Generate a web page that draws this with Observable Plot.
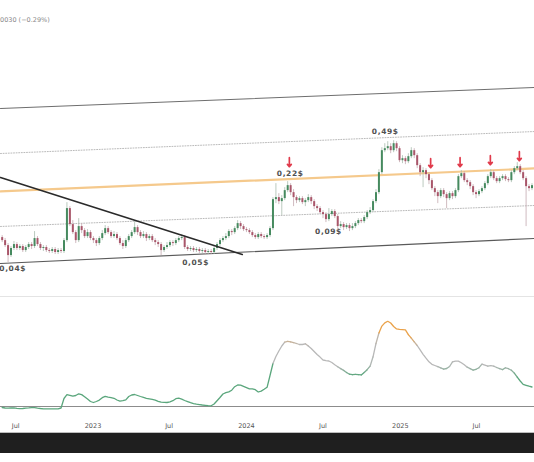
<!DOCTYPE html>
<html><head><meta charset="utf-8">
<script src="https://cdn.jsdelivr.net/npm/d3@7"></script>
<script src="https://cdn.jsdelivr.net/npm/@observablehq/plot@0.6"></script>
<style>
html,body{margin:0;padding:0;background:#fff;}
#wrap{position:relative;width:534px;height:462px;overflow:hidden;background:#fff;font-family:"DejaVu Sans",sans-serif;}
#top{position:absolute;left:0;top:0;}
#bot{position:absolute;left:0;top:296px;}
#sep{position:absolute;left:0;top:296px;width:534px;height:1px;background:#e4e4e4;}
#bar{position:absolute;left:0;top:432px;width:534px;height:20px;background:#1f1f1f;border-top:1px solid #bdbdbd;}
#quote{position:absolute;left:0px;top:16px;font-size:6.5px;color:#8a8a8a;white-space:nowrap;}
#top svg g[aria-label="text"] text{letter-spacing:0.6px;}
</style></head><body>
<div id="wrap">
<div id="top"></div>
<div id="sep"></div>
<div id="bot"></div>
<div id="bar"></div>
<div id="quote">0030 (−0.29%)</div>
</div>
<script>
// ---- weekly candles (first week starts 2022-05-30) ----
const firstWeek = "2022-05-30";
const firstOpen = 0.0667;
const closes = [
.0627,.0566,.0461,.0533,.0578,.0533,.0555,.0511,.0544,.0578,
.0555,.0654,.0578,.0533,.0544,.0511,.0501,.0522,.0491,.0511,
.0501,.0627,.1210,.0871,.0739,.0627,.0836,.0770,.0681,.0739,
.0654,.0627,.0590,.0654,.0724,.0802,.0739,.0681,.0710,.0654,
.0590,.0555,.0627,.0681,.0739,.0819,.0739,.0681,.0710,.0654,
.0681,.0627,.0602,.0578,.0511,.0544,.0566,.0602,.0590,.0627,
.0654,.0667,.0544,.0522,.0533,.0511,.0522,.0501,.0511,.0491,
.0501,.0491,.0533,.0578,.0627,.0654,.0681,.0755,.0739,.0802,
.0889,.0836,.0786,.0770,.0739,.0695,.0667,.0710,.0681,.0667,
.0695,.0802,.1455,.1516,.1396,.1485,.1750,.1939,.1679,.1516,
.1425,.1485,.1368,.1425,.1516,.1396,.1260,.1210,.1114,.1070,
.0965,.1070,.1138,.1027,.0836,.0871,.0819,.0853,.0802,.0836,
.0889,.0946,.0926,.1006,.1114,.1161,.1396,.1679,.2531,.3974,
.4141,.4314,.3974,.4587,.4141,.3237,.3373,.3171,.3514,.3974,
.3587,.2922,.2531,.2637,.2429,.2148,.1823,.1679,.1547,.1750,
.1612,.1485,.1645,.1547,.1750,.2332,.2480,.2148,.2062,.1899,
.1679,.1612,.1714,.1823,.2020,.2332,.2531,.2238,.2105,.2238,
.2332,.2193,.2148,.2531,.2747,.2862,.2531,.2238,.1899,.1823,.1939];
const highs = [
.0695,.0654,.0590,.0555,.0615,.0602,.0578,.0578,.0566,.0602,
.0602,.0755,.0681,.0602,.0566,.0566,.0533,.0544,.0544,.0533,
.0533,.0654,.1368,.1260,.0946,.0770,.0985,.0889,.0802,.0786,
.0770,.0681,.0654,.0681,.0770,.0853,.0836,.0770,.0755,.0739,
.0681,.0627,.0654,.0710,.0770,.0926,.0853,.0770,.0755,.0739,
.0710,.0710,.0654,.0627,.0602,.0566,.0602,.0627,.0627,.0654,
.0681,.0710,.0695,.0566,.0555,.0555,.0544,.0544,.0533,.0533,
.0522,.0522,.0555,.0602,.0654,.0681,.0724,.0786,.0786,.0836,
.0946,.0926,.0871,.0819,.0802,.0770,.0724,.0739,.0739,.0710,
.0724,.0836,.1516,.2020,.1645,.1579,.1861,.2105,.2020,.1786,
.1579,.1547,.1547,.1485,.1612,.1579,.1455,.1313,.1260,.1161,
.1114,.1210,.1185,.1185,.1070,.0926,.0908,.0889,.0889,.0889,
.0926,.0985,.0985,.1048,.1161,.1235,.1455,.1786,.2692,.4226,
.4590,.4779,.4587,.4879,.4779,.4314,.3587,.3514,.3737,.4226,
.4141,.3737,.3044,.2804,.2747,.2531,.2238,.1899,.1750,.1823,
.1823,.1679,.1714,.1714,.1823,.2429,.2637,.2584,.2238,.2148,
.1979,.1750,.1786,.1899,.2105,.2429,.2692,.2637,.2332,.2332,
.2429,.2429,.2285,.2637,.2862,.3107,.2982,.2637,.2332,.1979,.2020];
const lows = [
.0602,.0544,.0400,.0443,.0511,.0511,.0511,.0491,.0491,.0522,
.0522,.0533,.0555,.0511,.0501,.0491,.0481,.0481,.0471,.0471,
.0481,.0481,.0602,.0836,.0710,.0590,.0602,.0724,.0654,.0654,
.0627,.0590,.0555,.0566,.0627,.0695,.0710,.0654,.0654,.0627,
.0566,.0522,.0533,.0602,.0654,.0710,.0695,.0654,.0654,.0615,
.0627,.0602,.0566,.0544,.0461,.0491,.0522,.0544,.0555,.0566,
.0602,.0627,.0522,.0501,.0501,.0491,.0491,.0481,.0481,.0471,
.0471,.0471,.0471,.0511,.0555,.0602,.0627,.0654,.0695,.0710,
.0770,.0786,.0755,.0739,.0710,.0667,.0641,.0641,.0654,.0641,
.0641,.0667,.0770,.1340,.1313,.1048,.1425,.1679,.1579,.1260,
.1340,.1368,.1313,.1260,.1368,.1313,.1185,.1138,.1070,.0985,
.0908,.0926,.1027,.0985,.0786,.0802,.0770,.0786,.0755,.0770,
.0802,.0853,.0889,.0889,.0965,.1070,.1114,.1340,.1612,.2429,
.3814,.3974,.3737,.3814,.3893,.3107,.3044,.2982,.3044,.3373,
.3373,.2747,.2332,.1861,.2238,.1979,.1750,.1547,.1340,.1485,
.1516,.1210,.1425,.1455,.1485,.1679,.2238,.2062,.1939,.1786,
.1579,.1485,.1547,.1645,.1750,.1939,.2238,.2148,.2020,.2020,
.2148,.2105,.2062,.2062,.2429,.2637,.2429,.2148,.0836,.1714,.1750];
// ---- oscillator (lower pane), one value per week ----
const oscillator = [
-1,-1.5,-1.7,-1.5,-1.3,-1.8,-2.2,-2,-1.6,-1.4,
-1.1,-1.1,-1.6,-2,-2.3,-2.3,-2.3,-2.3,-2.3,-2.3,
-1.5,8,11.8,11.2,10.3,11,12.7,11.9,9.8,7.4,
5,4,5,6.4,8.8,10.1,9.4,8.9,8.2,6.5,
5.4,5.8,6.6,10,11.5,12,11,10,9.1,8.2,
7.7,7.2,6.4,5.2,4.3,4.1,4,4.7,5.8,7.8,
8.3,7.4,6,4.9,3.8,2.8,2.3,1.9,1.5,1.2,
0.9,0.7,2.5,5.8,9,12.5,13.8,14.6,16.3,19.8,
21.5,21.3,20.1,18.9,17.7,17.7,16.8,14.5,15.4,17.2,
19.2,31,43,50,55.5,60.5,64.3,65.2,64.7,63.9,
63,62,62,62.7,60.5,58,55,52,49.4,46.5,
45.8,45.5,44,41.8,39.8,37.9,36.1,34,32.3,31.9,
32.2,31.9,31.6,34.1,36.8,40.3,49.7,63,73.5,80.4,
83.6,85.2,83.5,80,77.6,77.1,76.9,76.7,71.8,68.3,
64.7,61,56.6,52.2,48.3,44.7,42.2,41,39.8,38.6,
37.4,38,40,44.6,45.4,45.4,43.8,41.7,39.3,37.8,
36.4,37.2,38.8,42.4,41.4,40.4,40.8,40.3,39,37.8,
36.9,38.7,37.8,36.2,33.4,29.3,25.5,22.1,21.2,20.3,19.5];
// ---- drawn trend / channel lines ----
const lineNames = ["channelTop","channelUpperDotted","resistance","channelLowerDotted","channelBottom","downtrend"];
const lineStartDate = ["2022-05-26","2022-05-26","2022-05-26","2022-05-26","2022-05-26","2022-05-26"];
const lineEndDate = ["2025-11-16","2025-11-16","2025-11-16","2025-11-16","2025-11-16","2023-12-22"];
const lineStartPrice = [0.945, 0.375, 0.172, 0.0838, 0.0392, 0.229];
const lineEndPrice = [1.454, 0.589, 0.276, 0.129, 0.0655, 0.0472];
// ---- price annotations ----
const labelText = ["0,04$","0,05$","0,22$","0,09$","0,49$"];
const labelDate = ["2022-06-24","2023-09-02","2024-04-14","2024-07-14","2024-11-26"];
const labelPrice = [0.0354, 0.0400, 0.2480, 0.0755, 0.589];
// ---- rejection arrows ----
const arrowDate = ["2024-04-12","2025-03-14","2025-05-23","2025-08-03","2025-10-11"];
const arrowTop = [0.3443, 0.3373, 0.3443, 0.3587, 0.3893];
const arrowTip = [0.2862, 0.2804, 0.2862, 0.2982, 0.3237];
// ---- x axis ----
const tickDates = ["2022-07-01","2023-01-01","2023-07-01","2024-01-01","2024-07-01","2025-01-01","2025-07-01"];
const tickLabels = ["Jul","2023","Jul","2024","Jul","2025","Jul"];
const xDomain = ["2022-05-26","2025-11-16"];
const priceDomain = [0.0199, 8.68];

const start = new Date(firstWeek);
const candles = closes.map((c, i) => ({
  date: d3.utcDay.offset(start, 7 * i),
  open: i === 0 ? firstOpen : closes[i - 1],
  close: c, high: highs[i], low: lows[i]
}));
const osc = oscillator.map((v, i) => ({date: d3.utcDay.offset(start, 7 * i), v}));
const xd = xDomain.map(d => new Date(d));

const styles = {
  channelTop: {stroke: "#6e6e6e", strokeWidth: 1.1},
  channelUpperDotted: {stroke: "#a8a8a8", strokeWidth: 0.8, strokeDasharray: "1,1.6"},
  resistance: {stroke: "#f5c98c", strokeWidth: 2.2},
  channelLowerDotted: {stroke: "#a8a8a8", strokeWidth: 0.8, strokeDasharray: "1,1.6"},
  channelBottom: {stroke: "#5a5a5a", strokeWidth: 1.2},
  downtrend: {stroke: "#2a2a2a", strokeWidth: 1.6}
};
const lineMark = i => Plot.line(
  [{d: new Date(lineStartDate[i]), p: lineStartPrice[i]}, {d: new Date(lineEndDate[i]), p: lineEndPrice[i]}],
  {x: "d", y: "p", ...styles[lineNames[i]]});

const up = d => d.close >= d.open;
const green = "#468a5f", red = "#a9566a";
const labels = labelText.map((t, i) => ({t, date: new Date(labelDate[i]), p: labelPrice[i]}));
const arrows = arrowDate.map((d, i) => ({date: new Date(d), a: arrowTop[i], b: arrowTip[i]}));

const topPlot = Plot.plot({
  width: 534, height: 296,
  marginTop: 0, marginBottom: 0, marginLeft: 0, marginRight: 0,
  x: {type: "utc", domain: xd, axis: null},
  y: {type: "log", domain: priceDomain, axis: null},
  style: {background: "transparent", fontFamily: "DejaVu Sans, sans-serif"},
  marks: [
    lineMark(0), lineMark(1), lineMark(2), lineMark(3), lineMark(4),
    Plot.ruleX(candles.filter(up), {x: "date", y1: "low", y2: "high", stroke: "#a9bcae", strokeWidth: 0.8}),
    Plot.ruleX(candles.filter(d => !up(d)), {x: "date", y1: "low", y2: "high", stroke: "#c4aab0", strokeWidth: 0.8}),
    Plot.ruleX(candles.filter(up), {x: "date", y1: "open", y2: "close", stroke: green, strokeWidth: 2}),
    Plot.ruleX(candles.filter(d => !up(d)), {x: "date", y1: "open", y2: "close", stroke: red, strokeWidth: 2}),
    lineMark(5),
    Plot.arrow(arrows, {x1: "date", y1: "a", x2: "date", y2: "b", stroke: "#e03a4b", strokeWidth: 1.7, headLength: 5, headAngle: 80}),
    Plot.text(labels, {x: "date", y: "p", text: "t", fontSize: 7.5, fontWeight: "bold", fill: "#505050"})
  ]
});
document.getElementById("top").appendChild(topPlot);

const botPlot = Plot.plot({
  width: 534, height: 136,
  marginTop: 0, marginBottom: 16, marginLeft: 0, marginRight: 0,
  x: {type: "utc", domain: xd},
  y: {domain: [-10, 110], axis: null},
  color: {type: "linear", domain: [31, 41, 62, 72], range: ["#5aa67c", "#b8b8b8", "#b8b8b8", "#eaa24a"], clamp: true},
  style: {background: "transparent", fontFamily: "DejaVu Sans, sans-serif", fontSize: "6.5px", color: "#555"},
  marks: [
    Plot.ruleY([0], {stroke: "#8c8c8c", strokeWidth: 1}),
    Plot.line(osc, {x: "date", y: "v", z: null, stroke: "v", strokeWidth: 1.3}),
    Plot.axisX(tickDates.map(d => new Date(d)), {tickFormat: (d, i) => tickLabels[i], tickSize: 0, tickPadding: 7})
  ]
});
document.getElementById("bot").appendChild(botPlot);
</script>
</body></html>
